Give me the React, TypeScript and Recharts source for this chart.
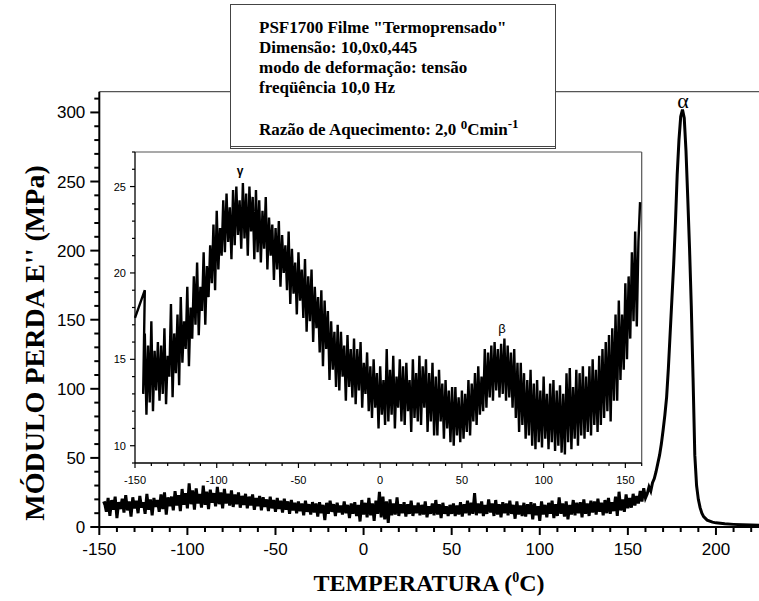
import React from "react";
import { Line, LineChart, ReferenceDot, ReferenceLine, XAxis, YAxis } from "recharts";

// main scan, read every 1 °C from -148 to 160 (MPa)
const MAIN_T0 = -148;
const MAIN_E = [
  17.0, 17.5, 11.0, 21.0, 8.0, 19.5, 12.5, 22.0, 6.5, 18.0,
  13.0, 20.5, 10.5, 23.0, 12.0, 18.5, 7.5, 21.5, 13.5, 19.0,
  10.0, 22.5, 14.0, 18.0, 9.5, 24.0, 12.5, 20.0, 8.5, 21.0,
  14.5, 19.5, 11.0, 23.5, 13.0, 25.0, 9.0, 21.5, 15.0, 22.0,
  12.0, 26.0, 15.5, 23.0, 11.5, 27.5, 16.0, 24.5, 13.5, 31.5,
  16.5, 26.5, 12.5, 28.0, 17.0, 24.0, 14.0, 30.0, 16.0, 25.5,
  13.0, 27.0, 17.5, 24.5, 15.0, 29.0, 16.5, 25.0, 13.5, 27.5,
  17.0, 24.0, 15.5, 26.5, 14.5, 23.5, 16.5, 25.0, 14.0, 22.5,
  16.0, 24.0, 13.5, 22.0, 15.5, 23.5, 12.5, 21.0, 15.0, 22.5,
  12.0, 21.5, 14.5, 20.0, 11.5, 22.0, 13.5, 19.5, 11.0, 21.0,
  13.0, 19.0, 10.5, 20.5, 12.5, 18.5, 9.5, 19.5, 12.0, 17.5,
  10.0, 18.5, 11.5, 17.0, 8.5, 19.0, 11.0, 16.5, 9.0, 18.0,
  10.5, 17.0, 7.5, 18.0, 10.0, 16.0, 5.0, 17.5, 9.5, 19.0,
  11.0, 16.5, 8.0, 17.5, 10.5, 15.5, 9.0, 18.5, 10.0, 16.0,
  6.5, 17.0, 9.5, 18.0, 8.0, 16.0, 4.0, 19.5, 9.0, 17.5,
  7.0, 21.0, 8.5, 17.0, 4.5, 19.0, 9.5, 25.5, 7.0, 22.0,
  5.5, 18.5, 3.0, 20.0, 8.5, 17.0, 9.0, 21.5, 8.0, 16.5,
  10.0, 18.0, 7.5, 16.5, 9.5, 19.0, 8.0, 15.5, 10.0, 17.5,
  8.5, 16.0, 9.0, 18.5, 7.0, 15.0, 9.5, 17.0, 8.5, 19.5,
  9.0, 16.5, 6.5, 17.5, 9.5, 15.0, 8.0, 16.0, 9.5, 17.0,
  8.0, 15.5, 9.0, 18.0, 7.5, 16.5, 10.0, 19.0, 8.5, 17.5,
  9.5, 24.5, 8.5, 17.0, 10.0, 18.5, 8.0, 16.0, 9.5, 20.0,
  10.5, 17.0, 8.0, 19.5, 9.0, 16.5, 7.0, 18.0, 10.0, 17.0,
  8.5, 19.0, 9.5, 16.0, 6.0, 18.5, 9.0, 15.5, 8.0, 17.5,
  7.5, 16.5, 9.5, 18.0, 5.5, 17.0, 8.5, 15.0, 4.5, 18.5,
  9.0, 16.0, 7.0, 17.5, 9.5, 19.0, 6.5, 16.5, 8.0, 21.5,
  9.5, 17.0, 7.5, 18.5, 5.5, 16.0, 9.0, 19.5, 8.5, 17.5,
  10.0, 18.0, 7.0, 20.0, 9.5, 17.0, 8.0, 19.0, 10.5, 18.5,
  9.0, 20.5, 11.0, 17.5, 8.5, 19.5, 10.0, 21.0, 9.5, 18.0,
  11.5, 22.0, 8.0, 25.5, 12.0, 20.0, 11.0, 23.5, 13.5, 21.0,
  14.0, 24.0, 15.5, 22.5, 17.0, 26.0, 18.5, 28.0, 21.0,
];

// alpha relaxation peak
const PEAK_T = [
  161, 162, 163, 164, 165, 166, 167, 168, 169, 170, 171, 172, 173, 174, 175, 176, 177,
  178, 179, 180, 181, 182, 183, 184, 185, 186, 187, 188, 189, 190, 191, 192, 193, 195,
  198, 200, 205, 210, 215, 220, 225,
];
const PEAK_E = [
  24, 29, 26, 32, 35, 40, 46, 52, 60, 70, 81, 94, 115, 140, 165, 190, 220,
  255, 280, 297, 302, 296, 272, 238, 202, 160, 108, 52, 30, 20, 14, 10, 7.5, 5,
  3.5, 3, 2.3, 1.9, 1.6, 1.4, 1.3,
];

// inset, read every 1 °C from -145 to 159 (MPa)
const INSET_LEAD_T = [-150, -144];
const INSET_LEAD_E = [17.4, 19.0];
const INSET_T0 = -145;
const INSET_E = [
  13.0, 16.5, 11.8, 15.8, 12.5, 17.2, 12.0, 15.5, 13.2, 16.0,
  12.6, 15.8, 13.0, 16.8, 12.4, 15.2, 14.0, 18.2, 12.8, 16.5,
  14.2, 17.6, 13.5, 18.6, 14.8, 17.2, 15.6, 19.2, 14.6, 18.0,
  16.2, 19.8, 17.0, 20.6, 16.4, 19.2, 17.8, 21.2, 17.0, 20.4,
  18.6, 21.6, 19.4, 22.8, 19.0, 23.6, 20.2, 22.6, 21.0, 24.2,
  21.2, 24.6, 21.8, 23.8, 20.8, 24.8, 21.6, 25.0, 22.2, 24.2,
  21.4, 25.2, 22.0, 24.6, 21.0, 25.0, 22.4, 24.4, 20.8, 24.8,
  21.2, 24.2, 20.6, 23.6, 21.4, 24.4, 20.2, 23.2, 21.0, 22.8,
  19.6, 22.6, 20.2, 23.0, 19.2, 22.2, 20.0, 21.6, 19.0, 22.4,
  18.2, 21.4, 18.8, 20.6, 17.6, 21.2, 18.4, 20.2, 17.4, 20.8,
  16.6, 19.8, 17.2, 20.2, 16.0, 19.2, 16.8, 18.6, 15.4, 19.0,
  14.6, 18.4, 15.6, 17.8, 13.8, 17.2, 14.4, 16.6, 13.4, 17.0,
  13.2, 16.6, 14.0, 15.8, 12.6, 16.4, 13.4, 15.6, 12.8, 16.2,
  12.4, 15.6, 13.2, 16.0, 12.2, 14.8, 13.0, 15.4, 12.0, 14.6,
  11.6, 15.0, 12.2, 14.2, 11.0, 14.6, 11.8, 13.8, 11.2, 15.6,
  11.4, 14.4, 11.8, 15.2, 11.0, 14.0, 12.2, 15.0, 11.4, 14.6,
  11.2, 14.8, 12.0, 13.8, 10.8, 15.0, 11.6, 14.2, 11.4, 15.2,
  11.2, 14.6, 12.2, 15.0, 10.8, 14.2, 11.4, 14.8, 10.6, 14.0,
  10.6, 14.4, 11.4, 13.6, 10.4, 13.8, 11.0, 13.2, 10.2, 13.4,
  10.0, 13.4, 10.6, 12.8, 10.2, 13.2, 10.4, 13.0, 10.8, 13.8,
  10.6, 13.6, 11.4, 14.2, 11.2, 14.6, 11.8, 14.0, 12.0, 15.6,
  12.2, 15.4, 12.8, 15.8, 12.6, 16.0, 13.2, 15.6, 12.8, 15.9,
  13.0, 16.2, 12.6, 15.8, 12.8, 15.4, 12.2, 15.6, 11.6, 14.8,
  10.8, 14.8, 11.2, 14.2, 10.4, 13.8, 10.6, 14.4, 10.0, 13.6,
  9.8, 13.8, 10.2, 13.2, 9.9, 14.0, 10.4, 13.0, 9.8, 13.6,
  10.2, 13.8, 9.7, 13.2, 10.0, 13.5, 9.6, 13.0, 9.5, 14.2,
  10.2, 14.5, 9.8, 13.4, 10.4, 14.4, 10.0, 14.2, 10.6, 14.6,
  10.4, 14.0, 10.8, 14.6, 10.6, 15.0, 11.2, 14.4, 10.8, 15.2,
  11.2, 15.6, 11.6, 16.0, 12.0, 16.4, 11.4, 16.8, 12.6, 17.6,
  12.6, 18.4, 13.8, 17.6, 14.4, 19.4, 15.0, 19.8, 16.2, 21.2,
  17.2, 22.4, 16.9, 21.8, 24.1,
];

const MAIN_X_TICKS = [
  -150, -140, -130, -120, -110, -100, -90, -80, -70, -60, -50, -40, -30, -20, -10, 0,
  10, 20, 30, 40, 50, 60, 70, 80, 90, 100, 110, 120, 130, 140, 150, 160, 170, 180, 190,
  200, 210, 220,
];
const MAIN_Y_TICKS = [
  0, 10, 20, 30, 40, 50, 60, 70, 80, 90, 100, 110, 120, 130, 140, 150, 160, 170, 180,
  190, 200, 210, 220, 230, 240, 250, 260, 270, 280, 290, 300, 310,
];
const INSET_X_TICKS = [
  -150, -140, -130, -120, -110, -100, -90, -80, -70, -60, -50, -40, -30, -20, -10, 0,
  10, 20, 30, 40, 50, 60, 70, 80, 90, 100, 110, 120, 130, 140, 150, 160,
];
const INSET_Y_TICKS = [9, 10, 11, 12, 13, 14, 15, 16, 17, 18, 19, 20, 21, 22, 23, 24, 25, 26, 27];

const mainData = [
  ...MAIN_E.map((e, i) => ({ t: MAIN_T0 + i, e })),
  ...PEAK_T.map((t, i) => ({ t, e: PEAK_E[i] })),
];
const insetData = [
  ...INSET_LEAD_T.map((t, i) => ({ t, e: INSET_LEAD_E[i] })),
  ...INSET_E.map((e, i) => ({ t: INSET_T0 + i, e })),
];

const SANS = "'Liberation Sans', Arial, sans-serif";
const SERIF = "'Liberation Serif', 'Times New Roman', serif";

function MainXTick(props: any) {
  const { x, y, payload } = props;
  const major = payload.value % 50 === 0;
  return (
    <g>
      <line x1={x} x2={x} y1={y} y2={y + (major ? 8 : 5)} stroke="#000" strokeWidth={2} />
      {major && (
        <text x={x} y={y + 28} textAnchor="middle" fontSize={17} fontFamily={SANS} fill="#000">
          {payload.value}
        </text>
      )}
    </g>
  );
}

function MainYTick(props: any) {
  const { x, y, payload } = props;
  const major = payload.value % 50 === 0;
  return (
    <g>
      <line x1={x} x2={x - (major ? 9 : 5)} y1={y} y2={y} stroke="#000" strokeWidth={2} />
      {major && (
        <text x={x - 14} y={y + 6} textAnchor="end" fontSize={17} fontFamily={SANS} fill="#000">
          {payload.value}
        </text>
      )}
    </g>
  );
}

function InsetXTick(props: any) {
  const { x, y, payload } = props;
  const major = payload.value % 50 === 0;
  return (
    <g>
      <line x1={x} x2={x} y1={y} y2={y + (major ? 5 : 3)} stroke="#000" strokeWidth={1.2} />
      {major && (
        <text x={x} y={y + 21} textAnchor="middle" fontSize={11} fontFamily={SANS} fill="#000">
          {payload.value}
        </text>
      )}
    </g>
  );
}

function InsetYTick(props: any) {
  const { x, y, payload } = props;
  const major = payload.value % 5 === 0;
  return (
    <g>
      <line x1={x} x2={x - (major ? 5 : 3)} y1={y} y2={y} stroke="#000" strokeWidth={1.2} />
      {major && (
        <text x={x - 9} y={y + 4} textAnchor="end" fontSize={11} fontFamily={SANS} fill="#000">
          {payload.value}
        </text>
      )}
    </g>
  );
}

const boxLine: React.CSSProperties = { height: 20, lineHeight: "20px", whiteSpace: "nowrap" };

export default function App() {
  return (
    <div
      style={{
        position: "fixed",
        left: 0,
        top: 0,
        width: 759,
        height: 601,
        overflow: "hidden",
        background: "#fff",
      }}
    >
      <div style={{ position: "absolute", left: 0, top: 0 }}>
        <LineChart width={760} height={601} data={mainData} margin={{ top: 91.7, right: 0, bottom: 44, left: 39.3 }}>
          <XAxis
            type="number"
            dataKey="t"
            domain={[-150, 225]}
            ticks={MAIN_X_TICKS}
            interval={0}
            tick={<MainXTick />}
            tickLine={false}
            tickSize={0}
            tickMargin={0}
            axisLine={{ stroke: "#000", strokeWidth: 2 }}
            height={30}
          />
          <YAxis
            type="number"
            domain={[0, 315]}
            ticks={MAIN_Y_TICKS}
            interval={0}
            tick={<MainYTick />}
            tickLine={false}
            tickSize={0}
            tickMargin={0}
            axisLine={{ stroke: "#000", strokeWidth: 2 }}
            width={60}
          />
          <ReferenceLine y={315} stroke="#555" strokeWidth={1.2} />
          <Line
            type="linear"
            dataKey="e"
            stroke="#000"
            strokeWidth={3}
            dot={false}
            isAnimationActive={false}
          />
          <ReferenceDot
            x={181.3}
            y={309}
            r={0}
            fill="none"
            stroke="none"
            label={{ value: "α", position: "center", fontSize: 22, fill: "#000", fontFamily: SERIF }}
          />
        </LineChart>
      </div>

      <div style={{ position: "absolute", left: 0, top: 0 }}>
        <LineChart width={759} height={601} data={insetData} margin={{ top: 152, right: 117.3, bottom: 118, left: 95 }}>
          <XAxis
            type="number"
            dataKey="t"
            domain={[-150, 160]}
            ticks={INSET_X_TICKS}
            interval={0}
            tick={<InsetXTick />}
            tickLine={false}
            tickSize={0}
            tickMargin={0}
            axisLine={{ stroke: "#000", strokeWidth: 1.3 }}
            height={20}
          />
          <YAxis
            type="number"
            domain={[9, 27]}
            ticks={INSET_Y_TICKS}
            interval={0}
            tick={<InsetYTick />}
            tickLine={false}
            tickSize={0}
            tickMargin={0}
            axisLine={{ stroke: "#000", strokeWidth: 1.3 }}
            width={40}
          />
          <ReferenceLine y={27} stroke="#555" strokeWidth={1.2} />
          <ReferenceLine x={160} stroke="#555" strokeWidth={1.2} />
          <Line
            type="linear"
            dataKey="e"
            stroke="#000"
            strokeWidth={2.4}
            dot={false}
            isAnimationActive={false}
          />
          <ReferenceDot
            x={-85.7}
            y={25.9}
            r={0}
            fill="none"
            stroke="none"
            label={{ value: "γ", position: "center", fontSize: 12, fontWeight: "bold", fill: "#000", fontFamily: SANS }}
          />
          <ReferenceDot
            x={74.5}
            y={16.8}
            r={0}
            fill="none"
            stroke="none"
            label={{ value: "β", position: "center", fontSize: 13, fill: "#000", fontFamily: SANS }}
          />
        </LineChart>
      </div>

      <svg width={759} height={601} style={{ position: "absolute", left: 0, top: 0, pointerEvents: "none" }}>
        <text x={429} y={591} textAnchor="middle" fontSize={24} fontWeight="bold" fontFamily={SERIF} fill="#000">
          TEMPERATURA (<tspan dy={-9} fontSize={14}>0</tspan>
          <tspan dy={9}>C)</tspan>
        </text>
        <text
          transform="translate(44,343) rotate(-90)"
          textAnchor="middle"
          fontSize={28}
          fontWeight="bold"
          fontFamily={SERIF}
          fill="#000"
        >
          MÓDULO PERDA E'' (MPa)
        </text>
      </svg>

      <div
        style={{
          position: "absolute",
          left: 230,
          top: 4,
          width: 296,
          height: 128,
          border: "1px solid #444",
          borderBottom: "3px double #444",
          background: "#fff",
          paddingTop: 13,
          paddingLeft: 28,
          boxSizing: "content-box",
          fontFamily: SERIF,
          fontWeight: "bold",
          fontSize: 17,
          color: "#000",
        }}
      >
        <div style={boxLine}>PSF1700 Filme "Termoprensado"</div>
        <div style={boxLine}>Dimensão: 10,0x0,445</div>
        <div style={boxLine}>modo de deformação: tensão</div>
        <div style={boxLine}>freqüência 10,0 Hz</div>
        <div style={{ ...boxLine, marginTop: 16 }}>
          Razão de Aquecimento: 2,0 <sup style={{ fontSize: 13, verticalAlign: 6 }}>0</sup>Cmin
          <sup style={{ fontSize: 13, verticalAlign: 7 }}>-1</sup>
        </div>
      </div>
    </div>
  );
}
